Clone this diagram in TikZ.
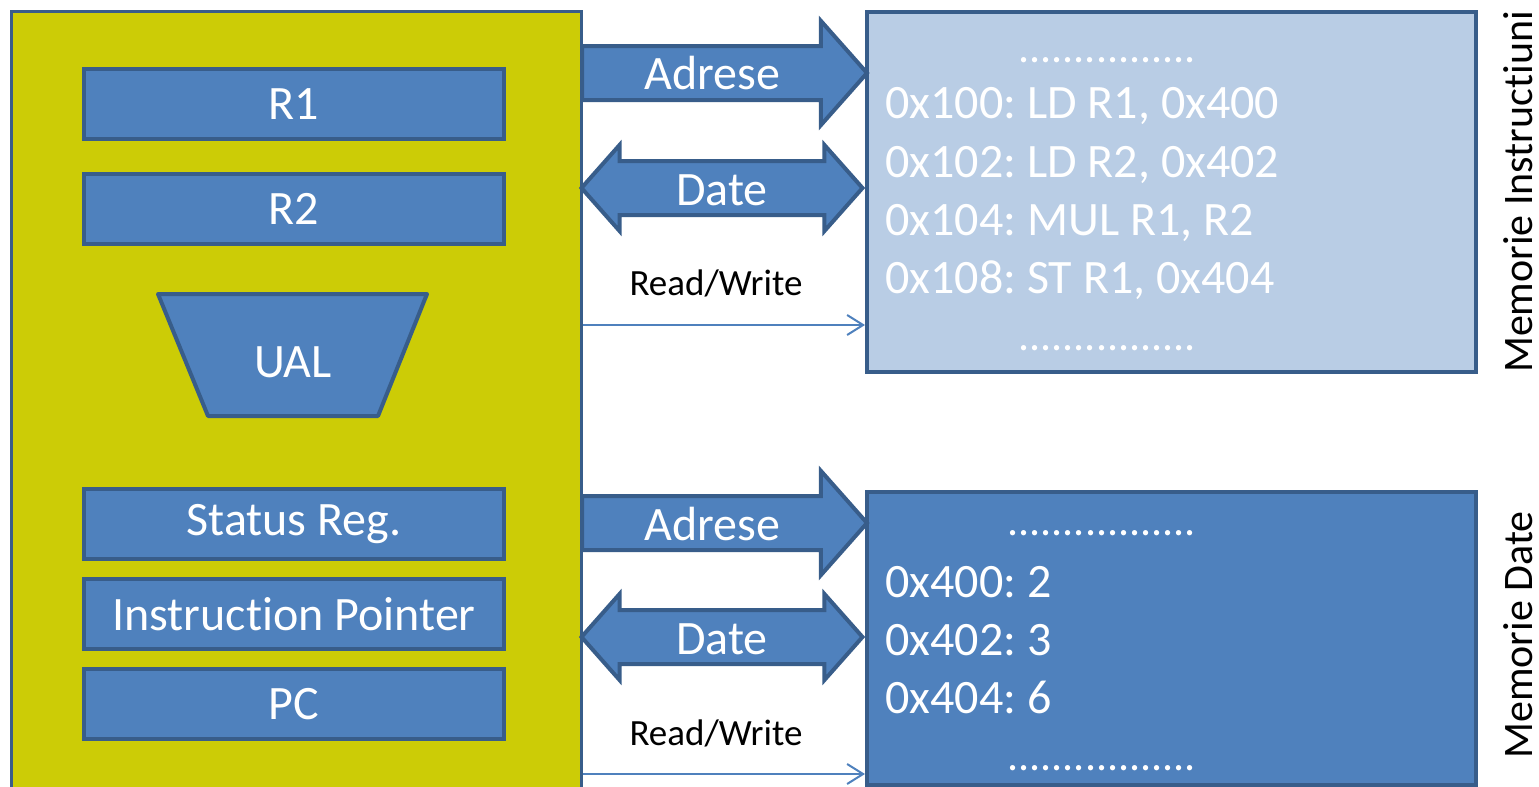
\documentclass[tikz,border=0pt]{standalone}
\usepackage{fontspec}
\setmainfont{Carlito}[RawFeature={-liga;-dlig}]
\usetikzlibrary{shapes.arrows,arrows.meta}
\definecolor{cpuyellow}{RGB}{204,204,6}
\definecolor{regblue}{RGB}{79,129,189}
\definecolor{edgeblue}{RGB}{56,93,138}
\definecolor{memlight}{RGB}{185,205,229}
\frenchspacing
\begin{document}
\begin{tikzpicture}[x=.5pt,y=-.5pt,font=\fontsize{24}{28}\selectfont,
    reg/.style={draw=edgeblue,fill=regblue,line width=2pt,text=white,
        minimum width=210pt,minimum height=35pt,inner sep=0pt},
    mem/.style={draw=edgeblue,line width=2pt,anchor=north west,inner sep=0pt,
        minimum width=304.5pt},
    line/.style={anchor=base west,text=white,inner sep=0pt},
    dots/.style={line,font=\fontsize{22}{26}\selectfont},
    bus/.style={single arrow,draw=edgeblue,fill=regblue,line width=2pt,text=white,
        text height=17pt,text depth=0pt,inner ysep=4pt,inner xsep=0pt,
        single arrow head extend=12.5pt,single arrow tip angle=97,
        minimum height=142.5pt,anchor=tail},
    dbus/.style={double arrow,draw=edgeblue,fill=regblue,line width=2pt,text=white,
        text height=17pt,text depth=0pt,inner ysep=4pt,inner xsep=0pt,
        double arrow head extend=8pt,double arrow tip angle=97,
        minimum height=140.5pt},
    rw/.style={font=\fontsize{18.5}{22}\selectfont},
    side/.style={rotate=90,inner sep=0pt,font=\fontsize{21}{25}\selectfont},
    wire/.style={regblue,line width=1pt,-{Straight Barb[length=8pt,width=10pt]}}]
    \useasboundingbox (0,0) rectangle (1539,787);
    % procesor
    \node[draw=edgeblue,fill=cpuyellow,line width=1.5pt,anchor=north west,
        minimum width=285pt,minimum height=420pt] (cpu) at (10,10) {};
    \node[reg] (r1) at (294,104) {R1};
    \node[reg] (r2) at (294,209) {R2};
    \filldraw[draw=edgeblue,fill=regblue,line width=2pt,line join=round]
        (158,294) -- (427,294) -- (378,416) -- (208,416) -- cycle;
    \node[text=white] (ual) at (293,362) {UAL};
    \node[reg] (sreg) at (294,524) {Status Reg.};
    \node[reg] (ip) at (294,614) {Instruction Pointer};
    \node[reg] (pc) at (294,704) {PC};
    % memorii
    \node[mem,fill=memlight,minimum height=180pt] (imem) at (865,10) {};
    \node[mem,fill=regblue,minimum height=146.5pt] (dmem) at (865,490) {};
    \node[dots] (idots1) at (1018,62) {................};
    \foreach \l [count=\i] in {{0x100: LD R1, 0x400},{0x102: LD R2, 0x402},
        {0x104: MUL R1, R2},{0x108: ST R1, 0x404}}
        \node[line] (iline\i) at (885,61+58*\i) {\l};
    \node[dots] (idots2) at (1018,350) {................};
    \node[dots] (ddots1) at (1007,535) {.................};
    \foreach \l [count=\i] in {{0x400: 2},{0x402: 3},{0x404: 6}}
        \node[line] (dline\i) at (885,539+58*\i) {\l};
    \node[dots] (ddots2) at (1007,770) {.................};
    \node[side,anchor=south] (ilbl) at (1533,192) {Memorie Instructiuni};
    \node[side,anchor=south] (dlbl) at (1533,635) {Memorie Date};
    % magistrale
    \node[bus] (adrI) at (580,73) {Adrese};
    \node[dbus] (datI) at (722,188) {Date};
    \node[rw] (rwI) at (716,283) {Read/Write};
    \draw[wire] (cpu.east |- 0,325) -- (imem.west |- 0,325);
    \node[bus] (adrD) at (580,523) {Adrese};
    \node[dbus] (datD) at (722,637) {Date};
    \node[rw] (rwD) at (716,733) {Read/Write};
    \draw[wire] (cpu.east |- 0,774) -- (dmem.west |- 0,774);
\end{tikzpicture}
\end{document}
